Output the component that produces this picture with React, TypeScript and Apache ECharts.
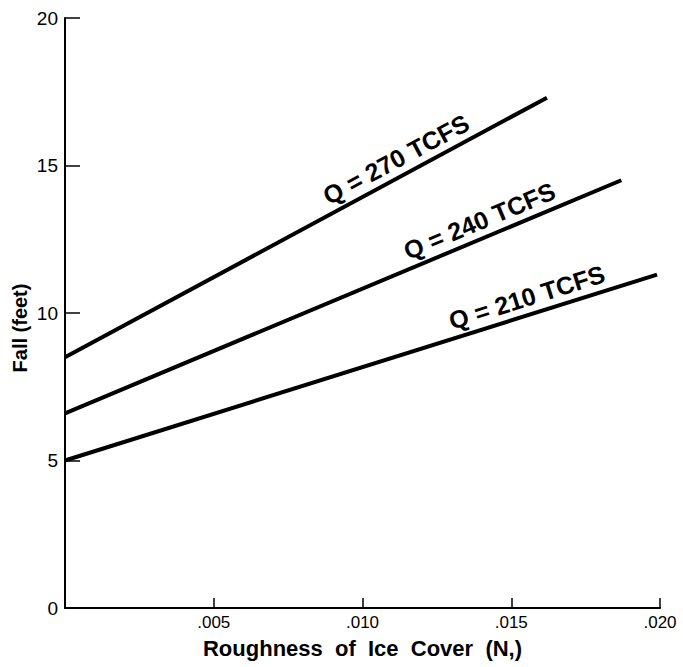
import React, { useEffect, useRef } from "react";
import * as echarts from "echarts";

// Data
const seriesNames = ["Q = 270 TCFS", "Q = 240 TCFS", "Q = 210 TCFS"];
const roughness270 = [0, 0.0162];
const fall270 = [8.5, 17.3];
const roughness240 = [0, 0.0187];
const fall240 = [6.6, 14.5];
const roughness210 = [0, 0.0199];
const fall210 = [5.0, 11.3];
const labelAtRoughness = [0.0114, 0.01415, 0.0157];
const yTicks = [0, 5, 10, 15, 20];
const xTickLabels = ["", ".005", ".010", ".015", ".020"];
const xAxisTitle = "Roughness  of  Ice  Cover  (N,)";
const yAxisTitle = "Fall (feet)";

const FONT = '"Liberation Sans", Arial, Helvetica, sans-serif';

export default function App() {
  const ref = useRef<HTMLDivElement>(null);
  useEffect(() => {
    if (!ref.current) return;
    const chart = echarts.init(ref.current, null, { renderer: "svg" });
    const lines = [
      { x: roughness270, y: fall270 },
      { x: roughness240, y: fall240 },
      { x: roughness210, y: fall210 },
    ];
    chart.setOption({
      animation: false,
      backgroundColor: "#ffffff",
      grid: { left: 65, right: 23, top: 18, bottom: 59, outerBoundsMode: "none", containLabel: false },
      xAxis: {
        type: "value",
        min: 0,
        max: 0.02,
        interval: 0.005,
        name: xAxisTitle,
        nameLocation: "middle",
        nameGap: 29,
        nameTextStyle: { fontFamily: FONT, fontWeight: "bold", fontSize: 22, color: "#000" },
        axisLine: { lineStyle: { color: "#000", width: 2 } },
        axisTick: { inside: true, length: 10, lineStyle: { color: "#000", width: 1.5 } },
        axisLabel: {
          color: "#000",
          fontFamily: FONT,
          fontSize: 17,
          margin: 6,
          formatter: (v: number) => xTickLabels[Math.round(v / 0.005)] ?? "",
        },
        splitLine: { show: false },
      },
      yAxis: {
        type: "value",
        min: yTicks[0],
        max: yTicks[yTicks.length - 1],
        interval: 5,
        axisLine: { show: true, lineStyle: { color: "#000", width: 2 } },
        axisTick: { show: true, inside: true, length: 15, lineStyle: { color: "#000", width: 1.5 } },
        axisLabel: { color: "#000", fontFamily: FONT, fontSize: 19, margin: 7 },
        splitLine: { show: false },
      },
      series: lines.map((l, i) => ({
        name: seriesNames[i],
        type: "line",
        data: l.x.map((xv, j) => [xv, l.y[j]]),
        symbol: "none",
        lineStyle: { color: "#000", width: 4 },
      })),
    });

    const graphics: any[] = lines.map((l, i) => {
      const p0 = chart.convertToPixel({ gridIndex: 0 }, [l.x[0], l.y[0]]) as number[];
      const p1 = chart.convertToPixel({ gridIndex: 0 }, [l.x[1], l.y[1]]) as number[];
      const a = Math.atan2(-(p1[1] - p0[1]), p1[0] - p0[0]);
      const lx = labelAtRoughness[i];
      const ly = l.y[0] + ((l.y[1] - l.y[0]) * (lx - l.x[0])) / (l.x[1] - l.x[0]);
      const p = chart.convertToPixel({ gridIndex: 0 }, [lx, ly]) as number[];
      const gap = 5;
      const nx = -Math.sin(a) * gap;
      const ny = -Math.cos(a) * gap;
      return {
        type: "text",
        x: p[0] + nx,
        y: p[1] + ny,
        rotation: a,
        style: {
          text: seriesNames[i],
          fill: "#000",
          font: `bold 25px ${FONT}`,
          align: "center",
          verticalAlign: "bottom",
        },
      };
    });
    graphics.push({
      type: "text",
      x: 20,
      y: 328,
      rotation: Math.PI / 2,
      style: {
        text: yAxisTitle,
        fill: "#000",
        font: `bold 20px ${FONT}`,
        align: "center",
        verticalAlign: "middle",
      },
    });
    chart.setOption({ graphic: graphics });
    return () => chart.dispose();
  }, []);
  return (
    <div
      ref={ref}
      style={{ position: "fixed", left: 0, top: 0, width: 683, height: 667, background: "#fff" }}
    />
  );
}
